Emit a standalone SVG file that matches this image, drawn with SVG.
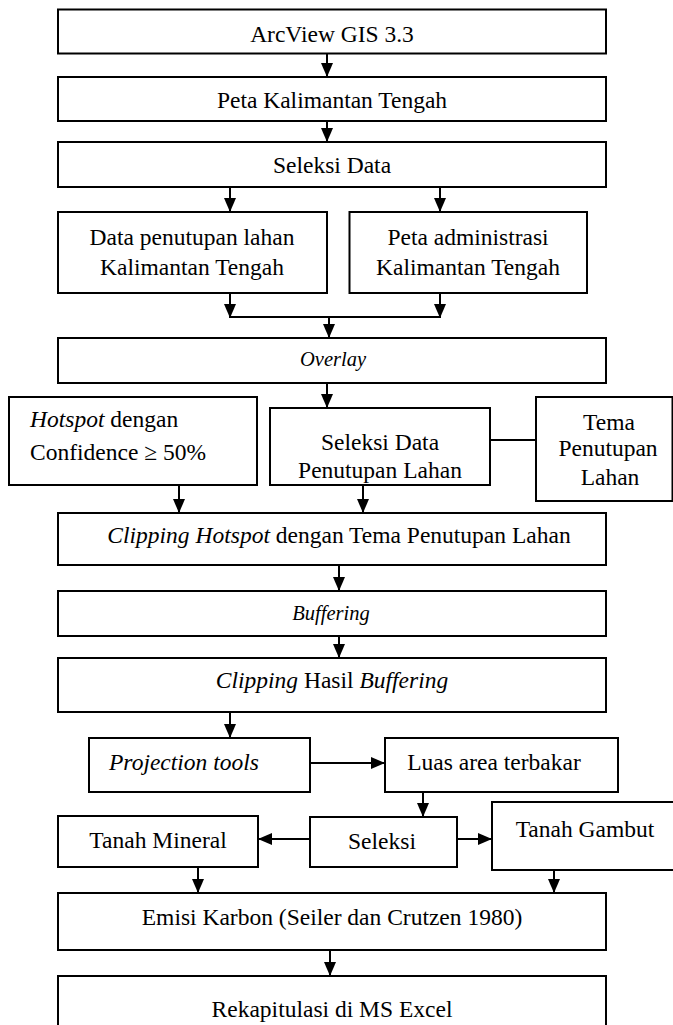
<svg xmlns="http://www.w3.org/2000/svg" width="673" height="1025" viewBox="0 0 673 1025">
<style>
rect{fill:#fff;stroke:#000;stroke-width:2}
text{font-family:"Liberation Serif","Times New Roman",serif;font-size:23.5px;fill:#000}
.c{text-anchor:middle}
.i{font-style:italic}
.s{font-size:20.5px}
#connectors path,#connectors line{stroke:#000;stroke-width:2;fill:none}
</style>
<defs>
<marker id="ah" viewBox="0 0 14 12" markerWidth="14" markerHeight="12" refX="14" refY="6" orient="auto" markerUnits="userSpaceOnUse">
<path d="M0,0 L14,6 L0,12 z" fill="#000"/>
</marker>
</defs>
<rect x="0" y="0" width="673" height="1025" style="stroke:none"/>
<g id="n1"><rect x="58" y="9.5" width="548" height="44"/><text class="c" x="332" y="42">ArcView GIS 3.3</text></g>
<g id="n2"><rect x="58" y="77" width="548" height="44"/><text class="c" x="332" y="108">Peta Kalimantan Tengah</text></g>
<g id="n3"><rect x="58" y="142" width="548" height="45"/><text class="c" x="332" y="173">Seleksi Data</text></g>
<g id="n4a"><rect x="58" y="212" width="269" height="81"/><text class="c" x="192" y="245">Data penutupan lahan</text><text class="c" x="192" y="275">Kalimantan Tengah</text></g>
<g id="n4b"><rect x="349.5" y="212" width="237.5" height="81"/><text class="c" x="468" y="245">Peta administrasi</text><text class="c" x="468" y="275">Kalimantan Tengah</text></g>
<g id="n5"><rect x="58" y="338" width="548" height="45"/><text class="c i s" x="333" y="366">Overlay</text></g>
<g id="n6a"><rect x="9" y="397" width="248" height="88"/><text x="30" y="427"><tspan class="i">Hotspot</tspan> dengan</text><text x="30" y="460">Confidence ≥ 50%</text></g>
<g id="n6b"><rect x="270" y="408" width="220" height="77"/><text class="c" x="380" y="450">Seleksi Data</text><text class="c" x="380" y="478">Penutupan Lahan</text></g>
<g id="n6c"><rect x="536" y="397" width="136.5" height="104"/><text class="c" x="609" y="430">Tema</text><text class="c" x="608" y="456">Penutupan</text><text class="c" x="610" y="485">Lahan</text></g>
<g id="n7"><rect x="58" y="513" width="548" height="52"/><text class="c" x="339" y="543"><tspan class="i">Clipping Hotspot</tspan> dengan Tema Penutupan Lahan</text></g>
<g id="n8"><rect x="58" y="591" width="548" height="45"/><text class="c i s" x="331" y="620">Buffering</text></g>
<g id="n9"><rect x="58" y="658" width="548" height="54"/><text class="c" x="332" y="688"><tspan class="i">Clipping</tspan> Hasil <tspan class="i">Buffering</tspan></text></g>
<g id="n10a"><rect x="89" y="738" width="221" height="54"/><text class="i" x="109" y="770">Projection tools</text></g>
<g id="n10b"><rect x="385" y="738" width="233" height="54"/><text class="c" x="494" y="770">Luas area terbakar</text></g>
<g id="n11a"><rect x="58" y="816" width="200" height="51"/><text class="c" x="158" y="848">Tanah Mineral</text></g>
<g id="n11b"><rect x="310" y="817" width="147" height="50"/><text class="c" x="382" y="849">Seleksi</text></g>
<g id="n11c"><rect x="492" y="802" width="185" height="68"/><text class="c" x="585" y="837">Tanah Gambut</text></g>
<g id="n12"><rect x="58" y="893" width="548" height="57"/><text class="c" x="332" y="925">Emisi Karbon (Seiler dan Crutzen 1980)</text></g>
<g id="n13"><rect x="58" y="976" width="548" height="60"/><text class="c" x="332" y="1017">Rekapitulasi di MS Excel</text></g>
<g id="connectors">
<path d="M327,53.5 V77" marker-end="url(#ah)"/>
<path d="M327,121 V142" marker-end="url(#ah)"/>
<path d="M230,187 V212" marker-end="url(#ah)"/>
<path d="M440,187 V212" marker-end="url(#ah)"/>
<path d="M230,293 V318" marker-end="url(#ah)"/>
<path d="M440,293 V318" marker-end="url(#ah)"/>
<path d="M230,317 H440"/>
<path d="M329,317 V338" marker-end="url(#ah)"/>
<path d="M327,383 V408" marker-end="url(#ah)"/>
<line x1="490" y1="440" x2="536" y2="440"/>
<path d="M179,485 V513" marker-end="url(#ah)"/>
<path d="M363,485 V513" marker-end="url(#ah)"/>
<path d="M339,565 V591" marker-end="url(#ah)"/>
<path d="M339,636 V658" marker-end="url(#ah)"/>
<path d="M230,712 V738" marker-end="url(#ah)"/>
<path d="M310,763 H385" marker-end="url(#ah)"/>
<path d="M423,792 V817" marker-end="url(#ah)"/>
<path d="M310,839 H258" marker-end="url(#ah)"/>
<path d="M457,839 H492" marker-end="url(#ah)"/>
<path d="M198,867 V893" marker-end="url(#ah)"/>
<path d="M554,870 V893" marker-end="url(#ah)"/>
<path d="M330,950 V976" marker-end="url(#ah)"/>
</g>
</svg>
